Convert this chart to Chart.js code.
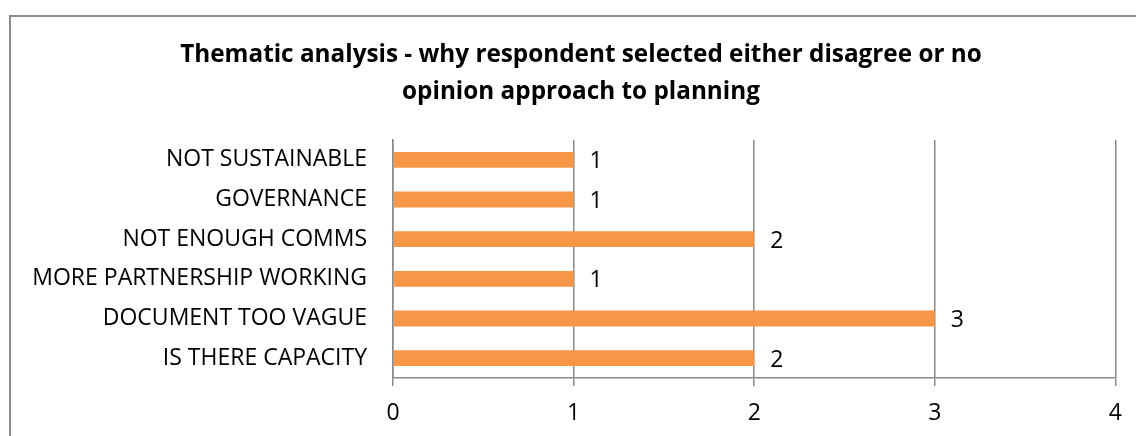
<!DOCTYPE html>
<html>
<head>
<meta charset="utf-8">
<script src="https://cdn.jsdelivr.net/npm/chart.js@4"></script>
<style>
    html, body { margin: 0; padding: 0; background: #fff; }
    #wrap { width: 1136px; height: 436px; position: relative; }
</style>
</head>
<body>
<div id="wrap"><canvas id="chart"></canvas></div>
<script>
// data
const categories = ['NOT SUSTAINABLE', 'GOVERNANCE', 'NOT ENOUGH COMMS', 'MORE PARTNERSHIP WORKING', 'DOCUMENT TOO VAGUE', 'IS THERE CAPACITY'];
const counts = [1, 1, 2, 1, 3, 2];
const xTicks = [0, 1, 2, 3, 4];
const titleLines = ['Thematic analysis - why respondent selected either disagree or no', 'opinion approach to planning'];

const FONT = '"Open Sans", sans-serif';
const GRID = '#8a8a8a';

// border + title drawn on the canvas
const frame = {
    id: 'frame',
    beforeDraw(chart) {
        const ctx = chart.ctx;
        ctx.save();
        ctx.strokeStyle = '#8c8c8c';
        ctx.lineWidth = 2;
        ctx.strokeRect(10, 16, 1200, 500);
        ctx.fillStyle = '#000';
        ctx.font = 'bold 24.3px ' + FONT;
        ctx.textAlign = 'center';
        ctx.textBaseline = 'middle';
        ctx.fillText(titleLines[0], 581, 55);
        ctx.fillText(titleLines[1], 581, 92);
        ctx.restore();
    }
};

// value labels to the right of each bar
const valueLabels = {
    id: 'valueLabels',
    afterDatasetsDraw(chart) {
        const ctx = chart.ctx;
        const meta = chart.getDatasetMeta(0);
        ctx.save();
        ctx.fillStyle = '#000';
        ctx.font = '23px ' + FONT;
        ctx.textAlign = 'left';
        ctx.textBaseline = 'middle';
        meta.data.forEach((bar, i) => {
            ctx.fillText(String(counts[i]), bar.x + 16, bar.y + 2);
        });
        ctx.restore();
    }
};

new Chart(document.getElementById('chart'), {
    type: 'bar',
    data: {
        labels: categories,
        datasets: [{
            data: counts,
            backgroundColor: '#f79646',
            categoryPercentage: 0.4,
            barPercentage: 1
        }]
    },
    options: {
        indexAxis: 'y',
        responsive: true,
        maintainAspectRatio: false,
        animation: false,
        layout: { padding: { top: 140, right: 20, left: 0, bottom: 0 } },
        plugins: {
            legend: { display: false },
            title: { display: false },
            tooltip: { enabled: false }
        },
        scales: {
            x: {
                min: 0,
                max: 4,
                afterBuildTicks: axis => { axis.ticks = xTicks.map(v => ({ value: v })); },
                afterFit: axis => { axis.height = 58; },
                grid: { color: GRID, lineWidth: 1.5, drawTicks: true, tickLength: 8, tickColor: GRID },
                border: { color: GRID, width: 1.5 },
                ticks: { color: '#000', font: { family: FONT, size: 23 }, padding: 14 }
            },
            y: {
                afterFit: axis => { axis.width = 393; },
                grid: { display: false },
                border: { display: true, color: GRID, width: 1.5 },
                ticks: { color: '#000', font: { family: FONT, size: 23 }, padding: 18 }
            }
        }
    },
    plugins: [frame, valueLabels]
});
</script>
</body>
</html>
